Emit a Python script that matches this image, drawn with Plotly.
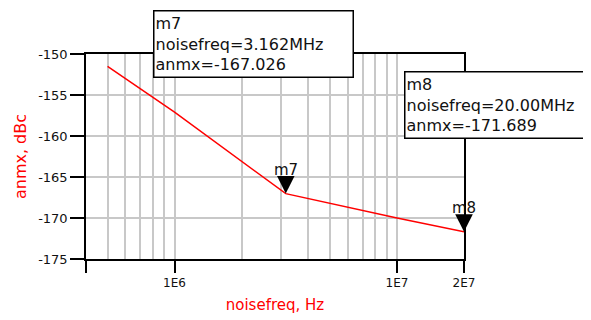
import math
import plotly.graph_objects as go

# swept noise frequency (Hz) and phase noise (dBc)
noisefreq = [5e5, 1e6, 3.162e6, 1e7, 2e7]
anmx = [-151.5, -157.1, -167.026, -170.0, -171.689]

# markers
marker_names = ["m7", "m8"]
marker_freq = [3.162e6, 2e7]
marker_val = [-167.026, -171.689]
marker_freq_text = ["3.162MHz", "20.00MHz"]

x_tickvals = [4e5, 1e6, 1e7, 2e7]
x_ticktext = ["", "1E6", "1E7", "2E7"]
x_minor = [5e5, 6e5, 7e5, 8e5, 9e5,
           2e6, 3e6, 4e6, 5e6, 6e6, 7e6, 8e6, 9e6]
y_tickvals = [-150, -155, -160, -165, -170, -175]
y_ticktext = ["-150", "-155", "-160", "-165", "-170", "-175"]

FONT = "DejaVu Sans, Arial, sans-serif"
GRID = "#c8c8c8"

fig = go.Figure()
fig.add_trace(go.Scatter(x=noisefreq, y=anmx, mode="lines",
                         line=dict(color="#ff0000", width=1.5),
                         hoverinfo="x+y", showlegend=False))

# triangle markers with names above them (log axis -> log10 positions)
for name, fx, fy in zip(marker_names, marker_freq, marker_val):
    fig.add_annotation(x=math.log10(fx), y=fy, xref="x", yref="y",
                       text=name, showarrow=True,
                       arrowhead=2, arrowsize=2.2, arrowwidth=1.6,
                       arrowcolor="black", ax=0, ay=-24, standoff=0,
                       font=dict(family=FONT, size=15, color="#111"))

# readout boxes
box_pos = [(0.177, 1.215), (0.842, 0.917)]
box_width = [196, 200]
for name, ftxt, val, (bx, by), bw in zip(marker_names, marker_freq_text,
                                          marker_val, box_pos, box_width):
    fig.add_annotation(xref="paper", yref="paper", x=bx, y=by,
                       xanchor="left", yanchor="top", align="left",
                       showarrow=False, width=bw, height=63,
                       text="%s<br>noisefreq=%s<br>anmx=%.3f" % (name, ftxt, val),
                       font=dict(family=FONT, size=16, color="#111"),
                       bordercolor="black", borderwidth=1.5, borderpad=1,
                       bgcolor="white")

fig.update_xaxes(type="log", range=[5.60206, 7.30103], automargin=False,
                 tickvals=x_tickvals, ticktext=x_ticktext,
                 ticks="outside", ticklen=12, tickwidth=1.5, tickcolor="black",
                 showline=True, linecolor="black", linewidth=1.5, mirror=True,
                 showgrid=True, gridcolor=GRID, gridwidth=1.5,
                 minor=dict(tickvals=x_minor, showgrid=True, gridcolor=GRID,
                            gridwidth=1.5, ticklen=0),
                 tickfont=dict(family=FONT, size=12, color="#111"),
                 title=dict(text="noisefreq, Hz", standoff=10,
                            font=dict(family=FONT, size=15, color="#ff0000")),
                 zeroline=False)
fig.update_yaxes(range=[-175, -150], tickvals=y_tickvals, ticktext=y_ticktext,
                 automargin=False,
                 ticks="outside", ticklen=14, tickwidth=1.5, tickcolor="black",
                 showline=True, linecolor="black", linewidth=1.5, mirror=True,
                 showgrid=True, gridcolor=GRID, gridwidth=1.5,
                 tickfont=dict(family=FONT, size=13, color="#111"),
                 title=dict(text="anmx, dBc", standoff=8,
                            font=dict(family=FONT, size=16, color="#ff0000")),
                 zeroline=False)

# page body has an 8px margin, so the figure is drawn 8px smaller
fig.update_layout(width=583, height=312,
                  margin=dict(l=78, r=127, t=46, b=61),
                  paper_bgcolor="white", plot_bgcolor="white")

fig.write_html("out.html")
